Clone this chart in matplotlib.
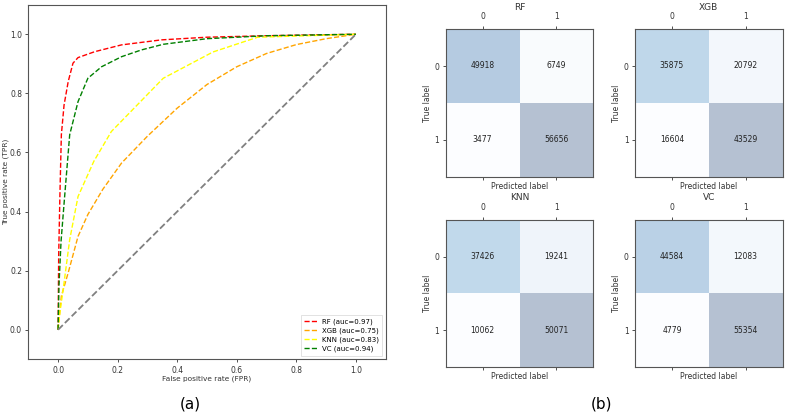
import numpy as np
import matplotlib
matplotlib.use("Agg")
import matplotlib.pyplot as plt

# ROC data
rf_fpr = [0, 0.002, 0.006, 0.011, 0.02, 0.034, 0.05, 0.067, 0.123, 0.213, 0.347, 0.5, 0.7, 1.0]
rf_tpr = [0, 0.25, 0.45, 0.66, 0.76, 0.84, 0.902, 0.921, 0.941, 0.964, 0.981, 0.99, 0.995, 1.0]

xgb_fpr = [0, 0.011, 0.034, 0.067, 0.1, 0.123, 0.15, 0.213, 0.3, 0.4, 0.5, 0.6, 0.7, 0.8, 0.9, 1.0]
xgb_tpr = [0, 0.114, 0.193, 0.316, 0.39, 0.429, 0.475, 0.564, 0.655, 0.75, 0.83, 0.89, 0.935, 0.965, 0.985, 1.0]

knn_fpr = [0, 0.005, 0.017, 0.039, 0.067, 0.12, 0.179, 0.353, 0.52, 0.67, 1.0]
knn_tpr = [0, 0.05, 0.136, 0.305, 0.451, 0.57, 0.671, 0.851, 0.94, 0.99, 1.0]

vc_fpr = [0, 0.003, 0.01, 0.022, 0.039, 0.067, 0.1, 0.146, 0.213, 0.28, 0.353, 0.5, 0.7, 1.0]
vc_tpr = [0, 0.15, 0.30, 0.451, 0.66, 0.772, 0.851, 0.89, 0.924, 0.947, 0.966, 0.985, 0.995, 1.0]

roc_labels = ["RF (auc=0.97)", "XGB (auc=0.75)", "KNN (auc=0.83)", "VC (auc=0.94)"]
roc_colors = ["red", "orange", "yellow", "green"]

# Confusion matrices
cm_titles = ["RF", "XGB", "KNN", "VC"]
cm_rf = [[49918, 6749], [3477, 56656]]
cm_xgb = [[35875, 20792], [16604, 43529]]
cm_knn = [[37426, 19241], [10062, 50071]]
cm_vc = [[44584, 12083], [4779, 55354]]
class_labels = ["0", "1"]

W, H = 787, 417
fig = plt.figure(figsize=(W / 100, H / 100), dpi=100)

def fx(px):
    return px / W

def fy(px):
    return 1 - px / H

spine_col = "#555555"
txt_col = "#333333"

# ROC axes
ax = fig.add_axes([fx(28.3), fy(359.3), fx(385.7 - 28.3), (359.3 - 4.7) / H])
for fpr, tpr, lab, col in zip([rf_fpr, xgb_fpr, knn_fpr, vc_fpr],
                              [rf_tpr, xgb_tpr, knn_tpr, vc_tpr],
                              roc_labels, roc_colors):
    ax.plot(fpr, tpr, linestyle="--", color=col, lw=1.0, label=lab)
ax.plot([0, 1], [0, 1], linestyle="--", color="grey", lw=1.3)
ax.set_xlim(-0.1, 1.1)
ax.set_ylim(-0.1, 1.1)
ax.set_xticks([0, 0.2, 0.4, 0.6, 0.8, 1.0])
ax.set_yticks([0, 0.2, 0.4, 0.6, 0.8, 1.0])
ax.tick_params(labelsize=5.5, length=2.5, width=0.6, pad=2, colors=txt_col)
ax.set_xlabel("False positive rate (FPR)", fontsize=5.3, labelpad=1, color=txt_col)
ax.set_ylabel("True positive rate (TPR)", fontsize=5.3, labelpad=1, color=txt_col)
for s in ax.spines.values():
    s.set_color(spine_col)
    s.set_linewidth(0.8)
leg = ax.legend(loc="lower right", fontsize=5, handlelength=1.9, frameon=True,
                fancybox=False, borderpad=0.5, labelspacing=0.4, handletextpad=0.6,
                borderaxespad=0.5)
leg.get_frame().set_linewidth(0.5)

# Confusion matrix axes
cms = [cm_rf, cm_xgb, cm_knn, cm_vc]
lefts = [445.7, 635.0, 445.7, 635.0]
bottoms = [176.7, 176.7, 367.3, 367.3]
size_w = 147.6
size_h = 147.6
for cm, title, l, b in zip(cms, cm_titles, lefts, bottoms):
    a = fig.add_axes([fx(l), fy(b), size_w / W, size_h / H])
    arr = np.array(cm)
    a.matshow(arr, cmap="Blues", alpha=0.3, aspect="auto")
    for i in range(2):
        for j in range(2):
            a.text(j, i, str(arr[i, j]), ha="center", va="center", fontsize=5.5, color="#222222")
    a.set_xticks([0, 1])
    a.set_yticks([0, 1])
    a.set_xticklabels(class_labels)
    a.set_yticklabels(class_labels)
    a.tick_params(labelsize=5.5, length=2.5, width=0.6, pad=2, colors=txt_col)
    a.tick_params(axis="x", bottom=True, top=True, labelbottom=False, labeltop=True, pad=3)
    a.set_xlabel("Predicted label", fontsize=5.5, labelpad=1, color=txt_col)
    a.set_ylabel("True label", fontsize=5.5, labelpad=2, color=txt_col)
    a.set_title(title, fontsize=6.5, pad=14, color=txt_col)
    for s in a.spines.values():
        s.set_color(spine_col)
        s.set_linewidth(0.8)

fig.text(fx(190), fy(404), "(a)", ha="center", va="center", fontsize=11)
fig.text(fx(602), fy(404), "(b)", ha="center", va="center", fontsize=11)

fig.savefig("out.png", dpi=100)
